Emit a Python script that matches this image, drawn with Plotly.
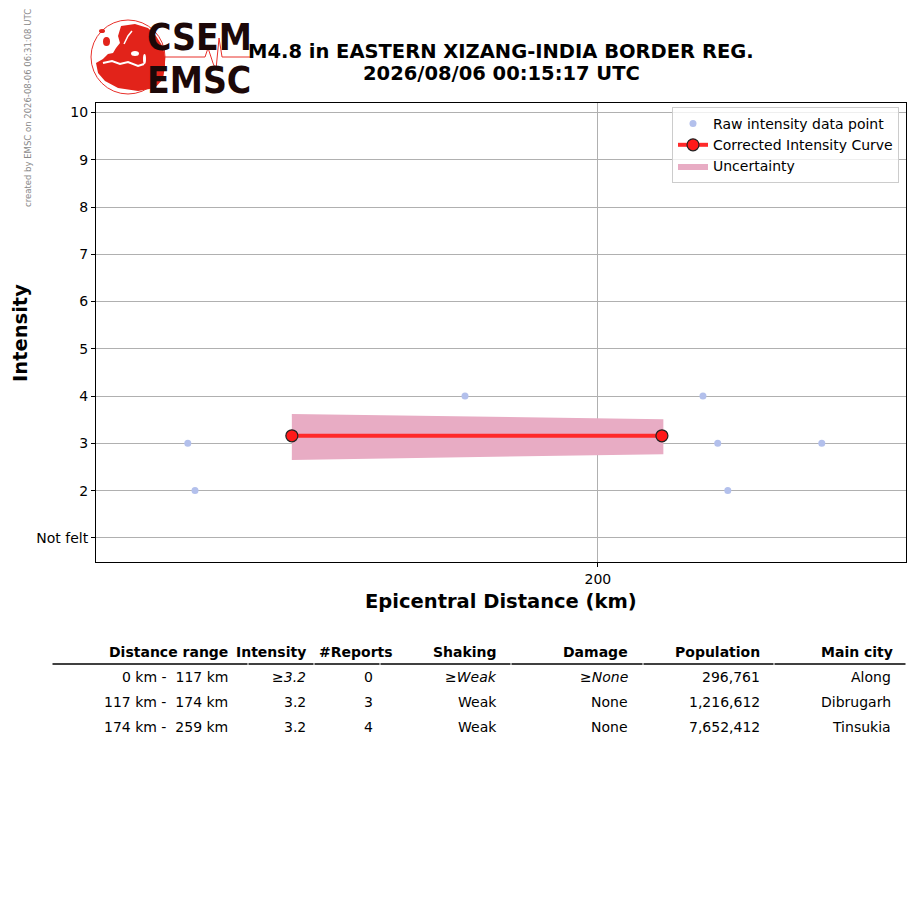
import plotly.graph_objects as go

# raw intensity reports (distance km, intensity)
raw_dist = [86.1, 88.1, 163.1, 166.4, 229.2, 233.3, 236.1, 262.2]
raw_int = [3, 2, 4, 3, 4, 3, 2, 3]

# corrected intensity curve
curve_dist = [115.0, 217.8]
curve_int = [3.16, 3.16]

# uncertainty band
band_dist = [115.0, 218.2]
band_upper = [3.62, 3.51]
band_lower = [2.65, 2.77]

ytick_vals = [1, 2, 3, 4, 5, 6, 7, 8, 9, 10]
ytick_text = ["Not felt", "2", "3", "4", "5", "6", "7", "8", "9", "10"]

# summary table
tbl_header = ["Distance range", "Intensity", "#Reports", "Shaking", "Damage", "Population", "Main city"]
tbl_dist = ["0 km -\u00a0\u00a0117 km", "117 km -\u00a0\u00a0174 km", "174 km -\u00a0\u00a0259 km"]
tbl_int = ["≥<i>3.2</i>", "3.2", "3.2"]
tbl_reports = ["0", "3", "4"]
tbl_shaking = ["≥<i>Weak</i>", "Weak", "Weak"]
tbl_damage = ["≥<i>None</i>", "None", "None"]
tbl_pop = ["296,761", "1,216,612", "7,652,412"]
tbl_city = ["Along", "Dibrugarh", "Tinsukia"]

W, H = 915, 905
L, R, T, B = 96, 906, 103, 562
FONT = "DejaVu Sans"


def px(x):
    return (x - L) / (R - L)


def py(y):
    return (B - y) / (B - T)


def pix_path(pts, close=True):
    s = "M " + " L ".join("%.4f,%.4f" % (px(a), py(b)) for a, b in pts)
    return s + (" Z" if close else "")


fig = go.Figure()

fig.add_trace(go.Scatter(
    x=raw_dist, y=raw_int, mode="markers", name="Raw intensity data point",
    marker=dict(color="#b3c0ec", size=7), legendrank=1))

fig.add_trace(go.Scatter(
    x=band_dist + band_dist[::-1], y=band_upper + band_lower[::-1],
    fill="toself", fillcolor="#e8acc4", line=dict(width=0, color="#e8acc4"),
    mode="lines", name="Uncertainty", legendrank=3, hoverinfo="skip"))

fig.add_trace(go.Scatter(
    x=curve_dist, y=curve_int, mode="lines+markers", name="Corrected Intensity Curve",
    line=dict(color="#ff2a2a", width=4),
    marker=dict(color="#ff1a1a", size=12, line=dict(color="#222222", width=1.2)),
    legendrank=2))

fig.update_xaxes(range=[60.6, 285.6], tickvals=[200], ticktext=["200"],
                 showgrid=True, gridcolor="#b0b0b0", gridwidth=1,
                 ticks="outside", ticklen=4, tickcolor="black",
                 showline=True, linecolor="black", linewidth=1, mirror=True,
                 zeroline=False, tickfont=dict(size=14, color="black"))
fig.update_yaxes(range=[0.49, 10.2], tickvals=ytick_vals, ticktext=ytick_text,
                 showgrid=True, gridcolor="#b0b0b0", gridwidth=1,
                 ticks="outside", ticklen=4, tickcolor="black",
                 showline=True, linecolor="black", linewidth=1, mirror=True,
                 zeroline=False, tickfont=dict(size=14, color="black"))

ann = []
# titles
ann.append(dict(x=px(501), y=py(51), text="<b>M4.8 in EASTERN XIZANG-INDIA BORDER REG.</b>",
                font=dict(size=19.5, color="black")))
ann.append(dict(x=px(501), y=py(73), text="<b>2026/08/06 00:15:17 UTC</b>",
                font=dict(size=19.5, color="black")))
ann.append(dict(x=px(501), y=py(601), text="<b>Epicentral Distance (km)</b>",
                font=dict(size=19.5, color="black")))
ann.append(dict(x=px(20), y=py(333), text="<b>Intensity</b>", textangle=-90,
                font=dict(size=19.5, color="black")))
ann.append(dict(x=px(28), y=py(108), text="created by EMSC on 2026-08-06 06:31:08 UTC",
                textangle=-90, font=dict(size=8.5, color="#888888")))

# table
col_right = [228, 306, 393, 497, 628, 760, 893]
row_right = [228, 306, 373, 497, 628, 760, 891]
for c, h in enumerate(tbl_header):
    ann.append(dict(x=px(col_right[c] + 2), y=py(652), text="<b>" + h + "</b>", xanchor="right",
                    font=dict(size=14, color="black")))
cols = [tbl_dist, tbl_int, tbl_reports, tbl_shaking, tbl_damage, tbl_pop, tbl_city]
row_y = [677, 702, 727]
for c, col in enumerate(cols):
    for r, v in enumerate(col):
        ann.append(dict(x=px(row_right[c] + 2), y=py(row_y[r]), text=v, xanchor="right",
                        font=dict(size=14, color="black")))

shapes = []
# header underline segments
cells = [52, 248, 314, 380, 511, 643, 774, 906]
for i in range(len(cells) - 1):
    shapes.append(dict(type="line", xref="paper", yref="paper",
                       x0=px(cells[i] + 0.5), x1=px(cells[i + 1] - 0.5), y0=py(664), y1=py(664),
                       line=dict(color="black", width=1.5)))

# logo: globe outline, land mass, seismogram trace
shapes.append(dict(type="circle", xref="paper", yref="paper",
                   x0=px(91), x1=px(165), y0=py(94), y1=py(20),
                   line=dict(color="#e8302a", width=1)))
land = [(121, 26), (135, 24), (148, 28), (156, 36), (163, 47), (165, 57), (165, 66),
        (163, 79), (155, 88), (138, 91), (118, 88), (105, 81), (98, 73), (96, 63),
        (103, 59), (108, 54), (113, 53), (116, 48), (120, 43), (118, 36)]
shapes.append(dict(type="path", xref="paper", yref="paper", path=pix_path(land),
                   fillcolor="#e2231a", line=dict(width=0)))
# britain / iceland
shapes.append(dict(type="circle", xref="paper", yref="paper",
                   x0=px(103), x1=px(110), y0=py(46), y1=py(37),
                   fillcolor="#e2231a", line=dict(width=0)))
shapes.append(dict(type="circle", xref="paper", yref="paper",
                   x0=px(99), x1=px(105), y0=py(33), y1=py(29),
                   fillcolor="#e2231a", line=dict(width=0)))
# mediterranean, baltic, black sea
shapes.append(dict(type="path", xref="paper", yref="paper",
                   path=pix_path([(103, 63), (112, 61), (120, 64), (128, 62), (138, 66),
                                  (144, 64)], close=False),
                   line=dict(color="white", width=2)))
shapes.append(dict(type="path", xref="paper", yref="paper",
                   path=pix_path([(124, 44), (128, 36), (132, 31)], close=False),
                   line=dict(color="white", width=1.5)))
shapes.append(dict(type="circle", xref="paper", yref="paper",
                   x0=px(131), x1=px(139), y0=py(56), y1=py(51),
                   fillcolor="white", line=dict(width=0)))
shapes.append(dict(type="circle", xref="paper", yref="paper",
                   x0=px(143), x1=px(146), y0=py(64), y1=py(54),
                   fillcolor="white", line=dict(width=0)))
seis = [(165, 57), (205, 57), (208, 48), (211, 57), (213, 63), (216, 70), (219, 38),
        (222, 57), (250, 57)]
shapes.append(dict(type="path", xref="paper", yref="paper", path=pix_path(seis, close=False),
                   line=dict(color="#e8302a", width=1)))

# logo text on top of the globe
ann.append(dict(x=px(199), y=py(37), text="<b>CSEM</b>",
                font=dict(size=37, color="#1c0808", family="DejaVu Sans Condensed")))
ann.append(dict(x=px(199), y=py(80), text="<b>EMSC</b>",
                font=dict(size=37, color="#1c0808", family="DejaVu Sans Condensed")))

for a in ann:
    a.update(xref="paper", yref="paper", showarrow=False)
    a.setdefault("xanchor", "center")
    a.setdefault("yanchor", "middle")

fig.update_layout(
    width=W, height=H,
    margin=dict(l=L, r=W - R, t=T, b=H - B),
    paper_bgcolor="white", plot_bgcolor="white",
    font=dict(family=FONT, size=14, color="black"),
    showlegend=True,
    legend=dict(x=px(899), y=py(107), xanchor="right", yanchor="top",
                bgcolor="rgba(255,255,255,0.8)", bordercolor="#cccccc", borderwidth=1,
                font=dict(size=14), tracegroupgap=0, itemwidth=30),
    annotations=ann, shapes=shapes,
)

fig.write_html("out.html", config={"displayModeBar": False},
               post_script="document.body.style.margin='0';")
